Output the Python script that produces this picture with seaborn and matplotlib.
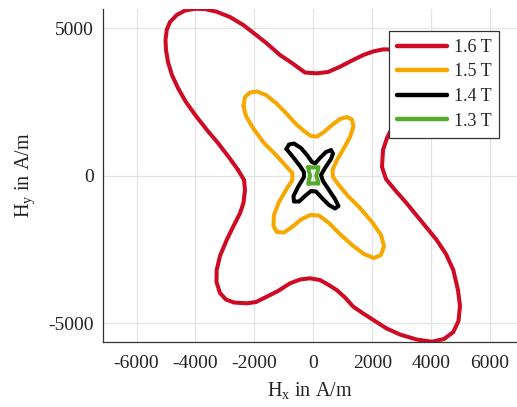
import numpy as np
import pandas as pd
import matplotlib
matplotlib.use("Agg")
import matplotlib.pyplot as plt
import seaborn as sns

# Loci of the magnetic field strength vector (Hx, Hy) in A/m for several flux densities
levels = ["1.6 T", "1.5 T", "1.4 T", "1.3 T"]
colors = ["#CE0A24", "#F7A800", "#000000", "#55AA2C"]

hx_16 = [-2550, -2350, -2318, -2370, -2488, -2725, -2939, -3167, -3279, -3285,
         -3167, -2963, -2691, -2260, -1945, -1582, -1198, -791, -451, -112,
         227, 499, 794, 1076, 1358, 1697, 2094, 2491, 2943, 3509,
         4018, 4436, 4752, 4928, 4979, 4911, 4752, 4504, 4188, 3689,
         3170, 2773, 2467, 2332, 2366, 2501, 2739, 2977, 3214, 3282,
         3180, 2909, 2603, 2376, 2026, 1697, 1313, 906, 499, 115,
         -282, -723, -1130, -1582, -1979, -2376, -2827, -3279, -3676, -4015,
         -4355, -4636, -4864, -4976, -5016, -4999, -4932, -4796, -4592, -4321,
         -3981, -3608, -3234, -2895, -2624]
hy_16 = [190, -146, -485, -927, -1276, -1741, -2182, -2725, -3201, -3608,
         -3981, -4202, -4304, -4331, -4287, -4107, -3913, -3652, -3523, -3482,
         -3540, -3693, -3879, -4134, -4446, -4677, -4932, -5186, -5390, -5559,
         -5634, -5542, -5305, -4932, -4422, -3879, -3201, -2658, -2182, -1571,
         -937, -485, -112, 295, 872, 1280, 1755, 2298, 2909, 3486,
         3893, 4164, 4283, 4290, 4215, 4097, 3910, 3699, 3520, 3475,
         3503, 3825, 4097, 4494, 4809, 5115, 5386, 5566, 5658, 5665,
         5607, 5454, 5217, 4945, 4606, 4266, 3859, 3418, 2977, 2501,
         2026, 1551, 1110, 669, 295]

hx_15 = [-2369, -2318, -2148, -1911, -1605, -1266, -927, -587, -316, -78,
         126, 363, 635, 906, 1144, 1313, 1364, 1246, 1042, 804,
         652, 669, 838, 1178, 1585, 1992, 2298, 2400, 2298, 2060,
         1721, 1313, 906, 533, 193, -112, -417, -723, -994, -1232,
         -1351, -1334, -1164, -927, -710, -710, -927, -1266, -1673, -2047,
         -2284]
hy_15 = [2366, 2671, 2824, 2858, 2739, 2467, 2128, 1755, 1517, 1347,
         1330, 1483, 1721, 1924, 1992, 1907, 1687, 1313, 940, 533,
         193, -44, -282, -689, -1096, -1571, -2013, -2386, -2691, -2793,
         -2658, -2352, -1979, -1605, -1351, -1334, -1487, -1741, -1928, -1911,
         -1707, -1334, -893, -485, -146, 92, 329, 703, 1110, 1619,
         2026]

hx_14 = [-910, -825, -655, -417, -214, -44, 58, 227, 431, 601,
         669, 601, 397, 261, 329, 533, 736, 855, 736, 533,
         295, 92, -78, -282, -485, -655, -672, -519, -316, -316,
         -451, -689]
hy_14 = [906, 1059, 1093, 940, 703, 465, 414, 601, 804, 872,
         753, 567, 261, 24, -180, -485, -791, -1028, -1113, -994,
         -757, -536, -519, -689, -876, -876, -689, -384, -44, 126,
         329, 635]

hx_13 = [-170, -90, 0, 90, 175, 150, 100, 150, 175, 90,
         0, -90, -170, -150, -105, -150]
hy_13 = [295, 285, 278, 285, 295, 150, 0, -150, -270, -262,
         -258, -262, -280, -150, 0, 150]

x_ticks = [-6000, -4000, -2000, 0, 2000, 4000, 6000]
y_ticks = [-5000, 0, 5000]

series = {"1.6 T": (hx_16, hy_16), "1.5 T": (hx_15, hy_15),
          "1.4 T": (hx_14, hy_14), "1.3 T": (hx_13, hy_13)}

frames = []
for name, (hx, hy) in series.items():
    hx = list(hx) + [hx[0]]
    hy = list(hy) + [hy[0]]
    frames.append(pd.DataFrame({"Hx": hx, "Hy": hy, "B": name}))
df = pd.concat(frames, ignore_index=True)

sns.set_theme(style="whitegrid")
plt.rcParams["font.family"] = ["Liberation Serif", "DejaVu Serif"]
plt.rcParams["axes.unicode_minus"] = False
plt.rcParams["mathtext.fontset"] = "custom"
plt.rcParams["mathtext.rm"] = "Liberation Serif"

fig = plt.figure(figsize=(5.17, 4.07), dpi=100)
ax = fig.add_axes([0.1986, 0.1604, 0.8014, 0.8167])

sns.lineplot(data=df, x="Hx", y="Hy", hue="B", hue_order=levels,
             palette=colors, sort=False, estimator=None, linewidth=2.9,
             ax=ax, legend=True)
for line in ax.lines:
    line.set_solid_joinstyle("round")
    line.set_solid_capstyle("round")

ax.set_xlim(-7148, 6914)
ax.set_ylim(-5634, 5648)
ax.set_xticks(x_ticks)
ax.set_yticks(y_ticks)
ax.set_xticklabels([str(v) for v in x_ticks])
ax.set_yticklabels([str(v) for v in y_ticks])

ax.grid(True, color="#e3e3e3", linewidth=0.9)
ax.set_facecolor("white")
for side in ["top", "right"]:
    ax.spines[side].set_visible(False)
for side in ["left", "bottom"]:
    ax.spines[side].set_visible(True)
    ax.spines[side].set_color("#333333")
    ax.spines[side].set_linewidth(0.9)
ax.tick_params(axis="both", direction="in", length=4, width=0.8,
               color="#333333", labelsize=14, labelcolor="#222222")
ax.tick_params(axis="x", pad=9.5)
ax.tick_params(axis="y", pad=6.5)

ax.set_xlabel(r"H$_{\mathrm{x}}$ in A/m", fontsize=14.5, color="#222222", labelpad=6)
ax.set_ylabel(r"H$_{\mathrm{y}}$ in A/m", fontsize=14.5, color="#222222", labelpad=8)

leg = ax.legend(loc="upper right", bbox_to_anchor=(0.9575, 0.9355),
                frameon=True, fancybox=False, framealpha=1, edgecolor="#333333",
                fontsize=13, handlelength=2.8, handletextpad=0.35,
                borderpad=0.45, labelspacing=0.42, borderaxespad=0)
leg.get_frame().set_linewidth(0.9)
for h in leg.get_lines():
    h.set_linewidth(3.2)

fig.savefig("out.png", dpi=100)
